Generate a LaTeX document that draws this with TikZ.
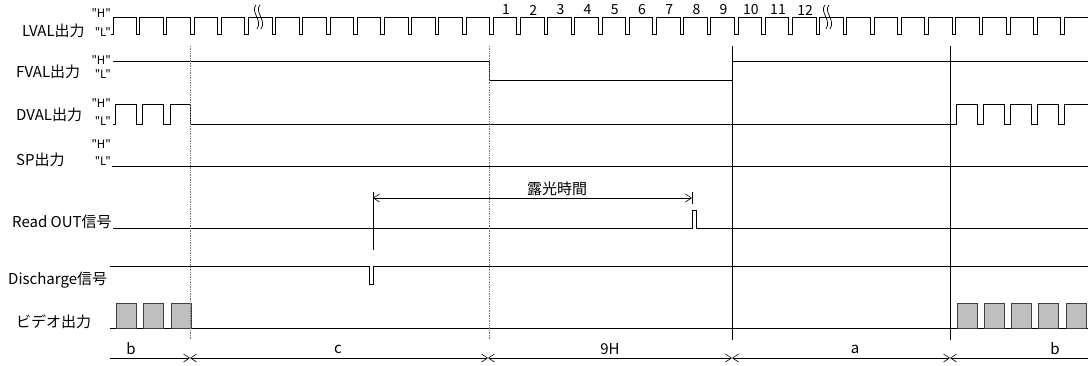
\documentclass[tikz,border=0pt]{standalone}
\usepackage{fontspec}
\setmainfont{Noto Sans CJK JP}[Ligatures=TeXOff]
\usetikzlibrary{arrows.meta}
\begin{document}
\begin{tikzpicture}[x=1pt, y=-1pt,
    >={Straight Barb[length=6pt,width=8pt]},
    signal/.style ={anchor=west, inner sep=0pt, font=\fontsize{15}{17}\selectfont},
    hilo/.style ={anchor=east, inner sep=0pt, font=\fontsize{11.5}{13}\selectfont},
    pulseno/.style ={inner sep=0pt, font=\fontsize{14}{16}\selectfont},
    spanlabel/.style ={inner sep=0pt, font=\fontsize{15}{17}\selectfont},
    wave/.style ={line width=0.7pt},
    guide/.style ={black!55, densely dotted, line width=0.7pt},
    cursor/.style ={line width=0.6pt},
    datablock/.style ={draw=black!75, fill=black!25, line width=0.6pt}]
   \useasboundingbox (0,0) rectangle (1088,365);
   \node[signal] (lval) at (22,31) {LVAL出力};
   \node[signal] (fval) at (16,72) {FVAL出力};
   \node[signal] (dval) at (16,115) {DVAL出力};
   \node[signal] (sp) at (16,160) {SP出力};
   \node[signal] (readout) at (12,222) {Read OUT信号};
   \node[signal] (discharge) at (8,280) {Discharge信号};
   \node[signal] (video) at (16,322) {ビデオ出力};
   \node[hilo] (lvalH) at (111,13) {"H"};
   \node[hilo] (lvalL) at (111,32) {"L"};
   \node[hilo] (fvalH) at (111,60) {"H"};
   \node[hilo] (fvalL) at (111,74) {"L"};
   \node[hilo] (dvalH) at (111,103) {"H"};
   \node[hilo] (dvalL) at (111,121) {"L"};
   \node[hilo] (spH) at (111,144) {"H"};
   \node[hilo] (spL) at (111,161) {"L"};
   \draw[wave] (111,34) -- (113,34) -- (113,17)
      \foreach \k in {0,...,34} { -- ({136+27.2*\k},17) -- ({136+27.2*\k},34)
         -- ({139.5+27.2*\k},34) -- ({139.5+27.2*\k},17) } -- (1088,17);
   \foreach \x in {256,825} {
      \draw[wave] (\x,5) .. controls (\x-6,12) and (\x+7,20) .. (\x+1,29);
      \draw[wave] (\x+4,5) .. controls (\x-2,12) and (\x+11,20) .. (\x+5,29);
   }
   \foreach \k in {1,...,12}
      \node[pulseno] (n\k) at ({506+27.2*(\k-1)},10) {\k};
   \draw[wave] (113,61) -- (489,61) -- (489,80) -- (732,80) -- (732,61) -- (1088,61);
   \draw[wave] (113,124)
      \foreach \k in {0,1,2} { -- ({115.5+27.2*\k},124) -- ({115.5+27.2*\k},104)
         -- ({136+27.2*\k},104) -- ({136+27.2*\k},124) }
      \foreach \k in {0,...,3} { -- ({956+27.2*\k},124) -- ({956+27.2*\k},104)
         -- ({977+27.2*\k},104) -- ({977+27.2*\k},124) }
      -- (1064.8,124) -- (1064.8,104) -- (1088,104);
   \draw[wave] (112,166) -- (1088,166);
   \draw[wave] (113,228) -- (692,228) -- (692,210) -- (696,210) -- (696,228) -- (1088,228);
   \draw[wave] (110,266) -- (369,266) -- (369,284) -- (373,284) -- (373,266) -- (1088,266);
   \draw[wave] (110,328) -- (1088,328);
   \foreach \k in {0,1,2}
      \draw[datablock] ({116.5+27.2*\k},303) rectangle ++(20,25);
   \foreach \k in {0,...,4}
      \draw[datablock] ({957+27.2*\k},303) rectangle ++(20,25);
   \draw[guide] (190,46) -- (190,340);
   \draw[guide] (489,46) -- (489,340);
   \draw[cursor] (732,46) -- (732,340);
   \draw[cursor] (950,46) -- (950,340);
   \coordinate (expstart) at (373,198);
   \coordinate (expend) at (692,198);
   \draw[cursor] (373,192) -- (373,250);
   \draw[cursor] (692,192) -- (692,204);
   \draw[cursor, <->] (expstart) -- (expend);
   \node[spanlabel] (exposure) at (557,189) {露光時間};
   \coordinate (t0) at (110,358);
   \coordinate (t1) at (190,358);
   \coordinate (t2) at (488,358);
   \coordinate (t3) at (732,358);
   \coordinate (t4) at (950,358);
   \coordinate (t5) at (1088,358);
   \draw[cursor, ->] (t0) -- (t1);
   \draw[cursor, <->] (t1) -- (t2);
   \draw[cursor, <->] (t2) -- (t3);
   \draw[cursor, <->] (t3) -- (t4);
   \draw[cursor, <-] (t4) -- (t5);
   \node[spanlabel] (bleft) at (131,349) {b};
   \node[spanlabel] (c) at (338,349) {c};
   \node[spanlabel] (nineH) at (610,349) {9H};
   \node[spanlabel] (a) at (855,349) {a};
   \node[spanlabel] (bright) at (1055,349) {b};
\end{tikzpicture}
\end{document}
